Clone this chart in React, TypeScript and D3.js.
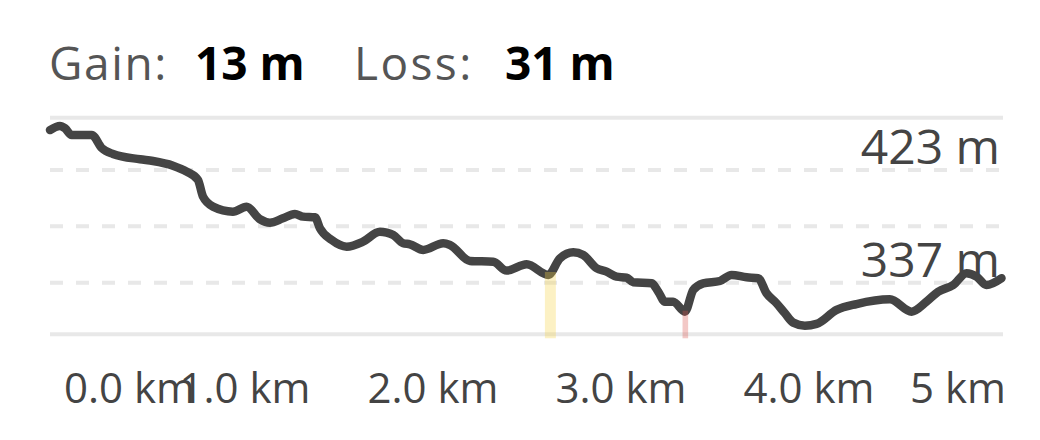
import React from "react";
import * as d3 from "d3";

const distKm = [0.000,0.053,0.080,0.115,0.222,0.275,0.335,0.479,0.548,0.654,0.727,0.787,0.814,0.867,0.973,1.046,1.117,1.170,1.239,1.303,1.346,1.410,1.436,1.498,1.578,1.665,1.755,1.791,1.826,1.879,1.915,1.986,2.092,2.128,2.234,2.358,2.429,2.536,2.651,2.713,2.784,2.837,2.908,2.961,3.014,3.067,3.103,3.201,3.236,3.271,3.315,3.378,3.422,3.475,3.564,3.626,3.706,3.768,3.812,3.865,3.910,3.954,4.016,4.078,4.185,4.291,4.468,4.584,4.663,4.725,4.805,4.876,4.929,4.982,5.062];
const elevM = [453.5,456.6,454.8,449.7,449.7,439.8,435.2,431.2,429.9,426.3,421.7,415.4,402.6,395.0,391.2,395.0,385.4,382.8,386.1,389.4,387.4,386.9,378.5,369.6,364.5,368.3,375.9,375.2,373.4,367.1,366.3,362.0,367.1,365.8,353.6,353.0,346.2,351.0,342.9,355.6,360.2,358.1,348.0,345.4,341.6,340.8,337.3,336.5,330.1,322.5,322.5,314.9,331.4,336.5,338.3,342.9,341.1,340.4,328.9,321.3,313.6,306.5,304.2,305.5,316.2,320.7,324.3,314.9,322.5,330.1,335.2,344.2,341.6,335.2,340.4];

const xTicks = [0, 1, 2, 3, 4, 5];
const xTickLabels = ["0.0 km", "1.0 km", "2.0 km", "3.0 km", "4.0 km", "5 km"];
const yDashed = [423, 380, 337];
const yLabelValues = [423, 337];
const yLabels = ["423 m", "337 m"];
const markerKm = [2.662, 3.38];
const markerColors = ["#f7d548", "#d9534f"];
const gainLabel = "Gain:";
const gainValue = "13 m";
const lossLabel = "Loss:";
const lossValue = "31 m";

const W = 1040, H = 440;
const left = 50, right = 1003, top = 117.7, bottom = 334.3;
const xMaxKm = 5.07;
const yMin = 297.6, yMax = 462.9;

export default function App() {
  const x = d3.scaleLinear().domain([0, xMaxKm]).range([left, right]);
  const y = d3.scaleLinear().domain([yMin, yMax]).range([bottom, top]);
  const pts = distKm.map((d, i) => [d, elevM[i]] as [number, number]);
  const line = d3.line<[number, number]>().x(d => x(d[0])).y(d => y(d[1])).curve(d3.curveMonotoneX);
  const interp = (k: number) => {
    const i = d3.bisectLeft(distKm, k);
    if (i <= 0) return elevM[0];
    const t = (k - distKm[i - 1]) / (distKm[i] - distKm[i - 1]);
    return elevM[i - 1] + t * (elevM[i] - elevM[i - 1]);
  };
  const font = "'Open Sans', sans-serif";
  return (
    <svg width={W} height={H} style={{ position: "fixed", left: 0, top: 0, background: "#fff" }}>
      <defs>
        <clipPath id="clipR"><rect x={0} y={0} width={1003} height={H} /></clipPath>
      </defs>
      <g fontFamily={font}>
        <text x={49} y={79.5} fontSize={46} fill="#555" letterSpacing={1.6}>{gainLabel}</text>
        <text x={195} y={79.5} fontSize={46} fontWeight={700} fill="#000">{gainValue}</text>
        <text x={354} y={79.5} fontSize={46} fill="#555" letterSpacing={2.4}>{lossLabel}</text>
        <text x={505} y={79.5} fontSize={46} fontWeight={700} fill="#000">{lossValue}</text>
      </g>
      <line x1={left} x2={right} y1={y(yMax)} y2={y(yMax)} stroke="#e8e8e8" strokeWidth={4} />
      <line x1={left} x2={right} y1={y(yMin)} y2={y(yMin)} stroke="#e8e8e8" strokeWidth={4} />
      {yDashed.map(v => (
        <line key={v} x1={left} x2={right} y1={y(v)} y2={y(v)} stroke="#e8e8e8" strokeWidth={4} strokeDasharray="13 13" />
      ))}
      <g fontFamily={font} fontSize={48} fill="#444" textAnchor="end">
        {yLabelValues.map((v, i) => (
          <text key={v} x={1000} y={y(v) - 6}>{yLabels[i]}</text>
        ))}
      </g>
      <path d={line(pts) || ""} fill="none" stroke="#444" strokeWidth={8.5} strokeLinejoin="round" strokeLinecap="round" />
      {markerKm.map((k, i) => (
        <rect key={k} x={x(k) - (i === 0 ? 5.5 : 2.8)} width={i === 0 ? 11 : 5.6} y={y(interp(k))} height={bottom + 4 - y(interp(k))} fill={markerColors[i]} opacity={0.32} />
      ))}
      <g fontFamily={font} fontSize={42} fill="#444" clipPath="url(#clipR)">
        {xTicks.map((k, i) => {
          const first = i === 0;
          const last = i === xTicks.length - 1;
          const px = first ? 64 : last ? 910 : x(k) + 7;
          return (
            <text key={k} x={px} y={403.3} textAnchor={first || last ? "start" : "middle"}>{xTickLabels[i]}</text>
          );
        })}
      </g>
    </svg>
  );
}
